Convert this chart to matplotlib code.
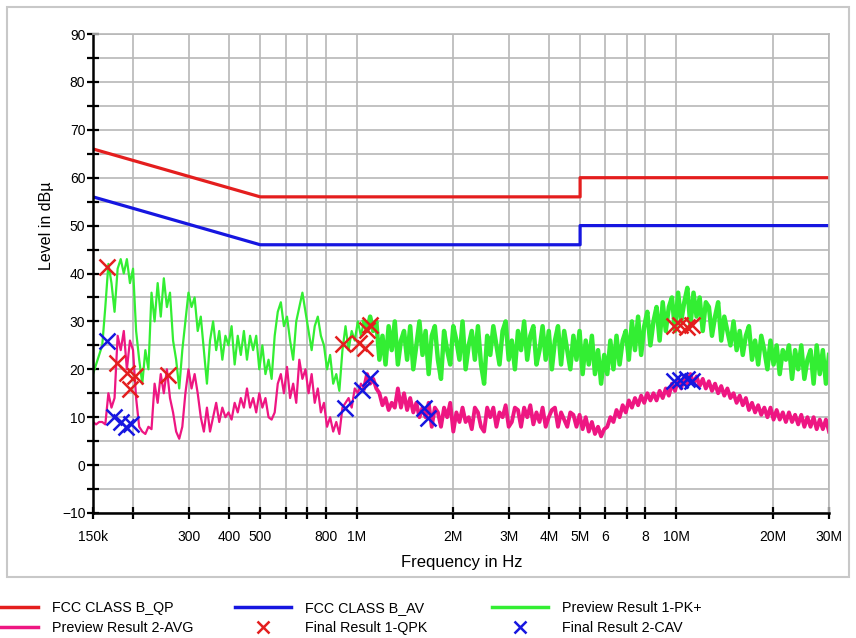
import numpy as np
import matplotlib
matplotlib.use('Agg')
import matplotlib.pyplot as plt
from matplotlib.lines import Line2D
from matplotlib.patches import Rectangle

plt.rcParams['font.family'] = ['Liberation Sans', 'DejaVu Sans']

# limit lines (FCC class B)
qp_freq = [150e3, 500e3, 5e6, 5e6, 30e6]
qp_level = [66, 56, 56, 60, 60]
av_freq = [150e3, 500e3, 5e6, 5e6, 30e6]
av_level = [56, 46, 46, 50, 50]

# preview scans (sweep points from 150k to 30M)
pk_level = [19, 21, 23, 25, 33, 42, 38, 32, 41, 43,
            40, 43, 38, 41, 28, 22, 17, 24, 20, 36,
            30, 38, 31, 39, 33, 36, 26, 22, 16, 24,
            30, 36, 33, 35, 28, 31, 24, 17, 26, 30,
            24, 28, 22, 27, 25, 29, 21, 27, 23, 28,
            22, 27, 24, 27, 20, 25, 19, 22, 18, 27,
            32, 34, 29, 31, 26, 22, 30, 33, 36, 32,
            28, 24, 29, 31, 27, 25, 20, 23, 17, 19,
            15.5, 24, 29, 24, 28, 26, 30, 27, 30, 28,
            31, 28, 30, 22, 27, 21, 29, 24, 30, 21,
            26, 28, 22, 29, 20, 25, 30, 23, 28, 19,
            27, 29, 22, 18, 28, 24, 21, 29, 26, 22,
            30, 20, 25, 28, 22, 29, 21, 17, 27, 23,
            29, 25, 21, 28, 30, 22, 26, 20, 28, 24,
            30, 22, 27, 29, 21, 24, 29, 22, 28, 20,
            26, 29, 21, 28, 24, 20, 27, 22, 28, 19,
            26, 21, 27, 19, 24, 17, 23, 19, 26, 20,
            27, 21, 26, 28, 22, 30, 24, 31, 23, 29,
            32, 25, 30, 33, 26, 34, 28, 33, 35, 28,
            36, 30, 34, 37, 29, 36, 31, 35, 28, 34,
            33, 27, 31, 34, 26, 31, 28, 25, 30, 24,
            28, 23, 27, 29, 22, 26, 21, 27, 24, 20,
            26, 21, 25, 19, 24, 22, 25, 18, 24, 20,
            25, 18, 22, 24, 17, 25, 19, 24, 17, 23]
pk_freq = np.geomspace(150e3, 30e6, len(pk_level))

avg_level = [9, 8.5, 9, 9, 8.5, 15, 12, 14, 27, 24,
             28, 20, 26, 24, 14, 8, 7, 6.5, 8, 7.5,
             17, 13, 19, 15, 20, 14, 11, 7, 5.5, 8,
             15, 20, 16, 19, 15, 10, 7, 12, 7, 10,
             13, 9, 12, 10, 11, 9.5, 13, 11, 14, 12,
             16, 12, 14, 11, 15, 12, 14, 10, 9.5, 11,
             17, 19, 15, 20.5, 14, 17, 13, 22, 18, 20,
             15, 19, 13, 16, 11, 13, 8, 10, 7, 9,
             6.5, 12, 13, 14, 12, 16, 15, 17, 16, 19,
             17, 18, 16, 15, 12.5, 14, 11.5, 13, 12, 16,
             12, 15, 11.5, 14, 11, 13, 10, 12, 10, 13,
             8, 12, 11, 8, 12, 10, 13, 7, 11, 9,
             12, 9, 10, 7.5, 12, 11, 8, 7, 12, 10,
             12, 8, 11, 10, 12.5, 8, 9, 12, 11.5, 8,
             12, 10, 12.5, 8.5, 11, 9, 12, 8, 10, 11.5,
             12, 8, 11, 9.5, 8, 11, 10.5, 8, 10.5, 7.5,
             10, 7, 9, 6.5, 8, 6, 7.5, 8, 10, 9,
             11.5, 10, 12.5, 11, 13.5, 12, 14, 12.5, 14.5, 13,
             15, 13.5, 15, 13.5, 15.5, 14, 16, 14.5, 17, 15.5,
             18, 16, 18.5, 17, 19, 17, 18.5, 16.5, 18, 16,
             17.5, 15.5, 17, 15, 16.5, 14.5, 16, 14, 15, 13,
             14.5, 12.5, 14, 11.5, 13, 11, 12.5, 10.5, 12, 10,
             12, 9.5, 11.5, 9.5, 11, 9, 11, 9, 10.5, 8.5,
             10.5, 8, 10, 8, 10, 7.5, 9.5, 7.5, 9.5, 7]
avg_freq = np.geomspace(150e3, 30e6, len(avg_level))

# final measurements
qpk_freq = [166e3, 178e3, 192e3, 196e3, 203e3, 257e3, 906e3, 1.02e6, 1.06e6,
            1.08e6, 1.10e6, 9.8e6, 10.3e6, 10.8e6, 11.2e6]
qpk_level = [41.3, 21.3, 19.2, 15.9, 18.6, 18.8, 25.3, 25.5, 24.5,
             28.2, 29.3, 29, 29.3, 28.8, 29.2]
cav_freq = [166e3, 175e3, 183e3, 190e3, 197e3, 920e3, 1.04e6, 1.10e6,
            1.63e6, 1.67e6, 9.8e6, 10.3e6, 10.8e6, 11.2e6]
cav_level = [26, 10, 9, 8, 8.5, 12, 15.6, 18.2, 11.9, 9.9, 17.5, 17.8, 18, 17.5]

xticks = [150e3, 200e3, 300e3, 400e3, 500e3, 600e3, 700e3, 800e3, 1e6, 2e6, 3e6,
          4e6, 5e6, 6e6, 7e6, 8e6, 10e6, 20e6, 30e6]
xticklabels = ['150k', '', '300', '400', '500', '', '', '800', '1M', '2M', '3M',
               '4M', '5M', '6', '', '8', '10M', '20M', '30M']

RED = '#e41e1e'
BLUE = '#1616e0'
GREEN = '#33ee33'
PINK = '#ee1682'
GRID = '#b8b8b8'
DENSE_FROM = 1.05e6  # above this the scan is a dense noise band

W, H = 856, 638
fig = plt.figure(figsize=(W / 100, H / 100), dpi=100)
ax = fig.add_axes([93 / W, 1 - 513 / H, 736 / W, 479 / H])

pk_f = np.asarray(pk_freq)
pk_l = np.asarray(pk_level)
avg_f = np.asarray(avg_freq)
avg_l = np.asarray(avg_level)
ax.plot(pk_f, pk_l, color=GREEN, lw=1.6)
ax.plot(pk_f[pk_f >= DENSE_FROM], pk_l[pk_f >= DENSE_FROM], color=GREEN, lw=3.2)
ax.plot(avg_f, avg_l, color=PINK, lw=1.6)
ax.plot(avg_f[avg_f >= DENSE_FROM], avg_l[avg_f >= DENSE_FROM], color=PINK, lw=2.8)
ax.plot(qp_freq, qp_level, color=RED, lw=2.3)
ax.plot(av_freq, av_level, color=BLUE, lw=2.3)
ax.plot(qpk_freq, qpk_level, ls='none', marker='x', ms=12, mew=1.8, color=RED)
ax.plot(cav_freq, cav_level, ls='none', marker='x', ms=12, mew=1.8, color=BLUE)

ax.set_xscale('log')
ax.set_xlim(150e3, 30e6)
ax.set_ylim(-10, 90)
ax.set_xticks(xticks)
ax.set_xticklabels(xticklabels)
ax.xaxis.set_minor_locator(matplotlib.ticker.NullLocator())
ax.set_yticks(np.arange(-10, 91, 10))
ax.set_yticks(np.arange(-5, 90, 10), minor=True)
ax.set_axisbelow(True)
ax.grid(True, which='both', color=GRID, lw=1.2)

for side in ['top', 'right']:
    ax.spines[side].set_color(GRID)
    ax.spines[side].set_linewidth(1.2)
for side in ['left', 'bottom']:
    ax.spines[side].set_color('black')
    ax.spines[side].set_linewidth(1.8)

ax.tick_params(which='both', direction='inout', length=9, width=1.6, labelsize=10)
ax.tick_params(axis='y', which='both', pad=1)
ax.tick_params(axis='x', pad=8)

fig.text(462 / W, 1 - 562 / H, 'Frequency in Hz', fontsize=12, ha='center', va='center')
fig.text(47 / W, 1 - 226 / H, 'Level in dBµ', fontsize=11.5, rotation=90,
         ha='center', va='center')

fig.add_artist(Rectangle((7 / W, 1 - 577 / H), 842 / W, 570 / H, transform=fig.transFigure,
                         fill=False, ec='#c8c8c8', lw=1.5))

# legend, three columns of two rows
cols = [
    (-18, [Line2D([], [], color=RED, lw=2.5), Line2D([], [], color=PINK, lw=2.5)],
     ['FCC CLASS B_QP', 'Preview Result 2-AVG']),
    (235, [Line2D([], [], color=BLUE, lw=2.5),
           Line2D([], [], ls='none', marker='x', ms=9, mew=1.8, color=RED)],
     ['FCC CLASS B_AV', 'Final Result 1-QPK']),
    (492, [Line2D([], [], color=GREEN, lw=2.5),
           Line2D([], [], ls='none', marker='x', ms=9, mew=1.8, color=BLUE)],
     ['Preview Result 1-PK+', 'Final Result 2-CAV']),
]
for x0, handles, labels in cols:
    fig.legend(handles, labels, loc='upper left', bbox_to_anchor=(x0 / W, 1 - 601 / H),
               frameon=False, fontsize=10.3, borderpad=0, borderaxespad=0,
               handlelength=3.9, handletextpad=1.0, labelspacing=0.45)

fig.savefig('out.png', dpi=100)
